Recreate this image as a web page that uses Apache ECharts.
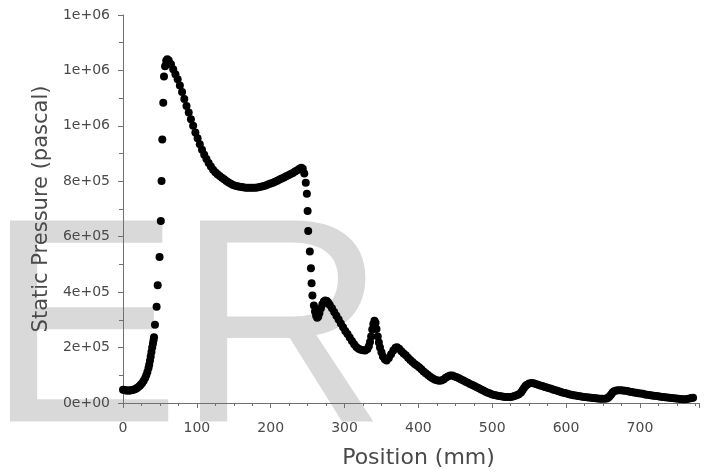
<!DOCTYPE html>
<html>
<head>
<meta charset="utf-8">
<title>Static pressure along position</title>
<script src="https://cdn.jsdelivr.net/npm/echarts@6/dist/echarts.min.js"></script>
<style>
    html, body { margin: 0; padding: 0; background: #fff; }
    #pressure_chart { width: 707px; height: 474px; }
</style>
</head>
<body>
<div id="pressure_chart"></div>
<script>

// Data: [position (mm), static pressure (Pa)]
// ------------------------------

var inletRise = [
    [0, 48000], [2, 46500], [4, 45500], [6, 45000], [8, 45000], [10, 45500],
    [12, 46500], [14, 48000], [16, 50000], [18, 52500], [20, 56000], [22, 60000],
    [24, 65500], [26, 72000], [28, 80000], [30, 90000], [31.5, 100000], [33, 112000],
    [34.5, 126000], [35.5, 138000], [36.5, 152000], [37.5, 168000], [38.5, 184000],
    [39.5, 200000], [40.5, 214000], [41.3, 226000], [42, 237000], [43.3, 282000],
    [45.5, 347000], [47, 425000], [49.5, 527000], [51.2, 657000], [52.2, 801000],
    [53.2, 951000], [54.5, 1083000], [55.5, 1178000], [57, 1215000], [58.5, 1235000],
    [60, 1240000]
];

var firstPeak = [
    [62, 1236000], [65, 1222000], [68, 1204000], [71, 1186000], [74, 1168000],
    [77, 1146000], [80, 1122000], [83, 1097000], [86, 1072000], [89, 1048000],
    [92, 1024000], [95, 1000000], [98, 976000], [101, 955000], [104, 934000],
    [107, 914000], [110, 896000], [113, 880000], [116, 866000], [119, 853000],
    [122, 842000], [125, 833000], [128, 825000], [131, 819000], [134, 813000],
    [137, 807000], [140, 801000], [143, 796000], [146, 791000], [149, 787000],
    [152, 784000], [155, 782000], [158, 780000], [161, 779000], [164, 778000],
    [167, 777000], [170, 777000], [173, 777000], [176, 777000], [179, 777000],
    [182, 778000], [185, 779000], [188, 781000], [191, 783000], [194, 786000],
    [197, 789000], [200, 792000], [203, 795000], [206, 798000], [209, 802000],
    [212, 806000], [215, 810000], [218, 814000], [221, 818000], [224, 822000],
    [227, 826000], [230, 830000], [233, 835000], [236, 840000], [239, 845000],
    [241.5, 849000]
];

var shockDrop = [
    [243.5, 845000], [245.5, 828000], [247.5, 795000], [249, 755000], [250, 693000],
    [250.8, 621000], [253, 547000], [254.5, 486000], [255.4, 432000], [256.5, 388000],
    [258.5, 352000], [260, 330000], [261.5, 315000], [263, 308000], [264.5, 312000],
    [266, 325000], [268, 342000], [270, 356000], [272, 366000], [274, 370000],
    [276, 368000], [278, 362000], [280, 354000], [283, 342000], [286, 328000],
    [289, 315000], [292, 301000], [295, 287000], [298, 273000], [301, 260000],
    [304, 249000], [307, 236000], [310, 224000], [313, 212000], [316, 202000],
    [319, 196000], [322, 192000], [325, 190000], [328, 189000], [331, 195000],
    [333, 206000], [334.5, 220000], [336, 240000], [337.5, 265000], [339, 285000],
    [340.5, 297000], [342, 290000], [343.3, 267000], [345, 240000], [346.5, 218000],
    [348, 200000], [350, 183000], [352, 168000], [354.5, 158000], [357, 153000],
    [360, 162000], [363, 176000], [366, 189000], [369, 199000], [371, 201000],
    [374, 196000], [377, 187000], [380, 179000], [383, 172000], [386, 163000],
    [389, 155000], [392, 148000], [395, 141000], [398, 135000], [401, 129000],
    [404, 122000], [407, 114000], [410, 107000], [413, 101000], [416, 95000],
    [419, 89000], [422, 85000], [425, 82000], [428, 80000], [431, 81000],
    [434, 85000], [437, 91000], [440, 96000], [443, 99000], [446, 99000],
    [449, 96000], [452, 93000], [455, 89000], [458, 85000], [461, 81000]
];

var outletTail = [
    [464, 77000], [467, 73000], [470, 69000], [473, 65000], [476, 61000],
    [479, 57000], [482, 53000], [485, 49000], [488, 45000], [491, 41000],
    [494, 37000], [497, 34000], [500, 31000], [503, 29000], [506, 27000],
    [509, 25000], [512, 24000], [515, 23000], [518, 22000], [521, 21500],
    [524, 21500], [527, 22500], [530, 25000], [533, 28000], [536, 32000],
    [539, 38000], [541, 46000], [543, 54000], [545, 61000], [547, 66000],
    [550, 70000], [553, 72000], [556, 71000], [559, 69000], [562, 66000],
    [565, 63000], [568, 61000], [571, 58000], [574, 56000], [577, 53000],
    [580, 51000], [583, 48000], [586, 46000], [589, 43000], [592, 41000],
    [595, 38000], [598, 36000], [601, 34000], [604, 32000], [607, 30000],
    [610, 28000], [613, 27000], [616, 25000], [619, 24000], [622, 23000],
    [625, 22000], [628, 21000], [631, 20000], [634, 19000], [637, 18000],
    [640, 17000], [643, 16000], [646, 15500], [649, 15000], [652, 15000],
    [655, 16500], [657, 19000], [659, 24000], [661, 31000], [663, 38000],
    [665, 42000], [668, 45000], [671, 46000], [674, 46000], [677, 45000],
    [680, 44000], [683, 43000], [686, 41000], [689, 40000], [692, 38000],
    [695, 37000], [698, 35000], [701, 34000], [704, 33000], [707, 31000],
    [710, 30000], [713, 29000], [716, 27000], [719, 26000], [722, 25000],
    [725, 24000], [728, 23000], [731, 22000], [734, 21000], [737, 20000],
    [740, 19000], [743, 18000], [746, 17000], [749, 16000], [752, 15000],
    [755, 14000], [758, 13500], [761, 13500], [764, 14500], [767, 16000],
    [770, 18000], [772, 19000]
];

// Tick labels as printed on the vertical axis (bottom to top)
var yTickLabels = ['0e+00', '2e+05', '4e+05', '6e+05', '8e+05', '1e+06', '1e+06', '1e+06'];


// Chart
// ------------------------------

var chart_element = document.getElementById('pressure_chart');
var pressure_chart = echarts.init(chart_element, null, { renderer: 'canvas' });

var axisGray = '#707070';
var labelGray = '#4a4a4a';
var textFont = '"DejaVu Sans", Verdana, sans-serif';
var markFont = '"Liberation Sans", Arial, sans-serif';

pressure_chart.setOption({

    animation: false,
    backgroundColor: '#fff',

    textStyle: {
        fontFamily: textFont
    },

    grid: {
        left: 123,
        right: 8,
        top: 15,
        bottom: 70
    },

    // Grey watermark letters behind the plot
    graphic: [{
        type: 'text',
        x: -14,
        y: 195,
        z: -10,
        silent: true,
        style: {
            text: 'E',
            fontSize: 292,
            fontFamily: markFont,
            fill: '#d9d9d9',
            verticalAlign: 'top'
        }
    }, {
        type: 'text',
        x: 176,
        y: 195,
        z: -10,
        silent: true,
        style: {
            text: 'R',
            fontSize: 292,
            fontFamily: markFont,
            fill: '#d9d9d9',
            verticalAlign: 'top'
        }
    }],

    xAxis: {
        type: 'value',
        min: 0,
        max: 780,
        interval: 100,
        name: 'Position (mm)',
        nameLocation: 'middle',
        nameGap: 44,
        nameTextStyle: {
            fontSize: 22,
            color: labelGray,
            padding: [0, 0, 0, 15]
        },
        axisLine: {
            onZero: false,
            lineStyle: { color: axisGray, width: 1 }
        },
        axisTick: {
            length: 5,
            lineStyle: { color: axisGray }
        },
        minorTick: {
            show: true,
            splitNumber: 4,
            length: 3,
            lineStyle: { color: axisGray }
        },
        axisLabel: {
            fontSize: 14,
            color: labelGray,
            margin: 18,
            showMaxLabel: false
        },
        splitLine: { show: false }
    },

    yAxis: {
        type: 'value',
        min: 0,
        max: 1400000,
        interval: 200000,
        name: 'Static Pressure (pascal)',
        nameLocation: 'middle',
        nameGap: 70,
        nameTextStyle: {
            fontSize: 21,
            color: labelGray
        },
        axisLine: {
            show: true,
            lineStyle: { color: axisGray, width: 1 }
        },
        axisTick: {
            show: true,
            length: 5,
            lineStyle: { color: axisGray }
        },
        minorTick: {
            show: true,
            splitNumber: 2,
            length: 4,
            lineStyle: { color: axisGray }
        },
        axisLabel: {
            fontSize: 14,
            color: labelGray,
            margin: 13,
            formatter: function(value) {
                return yTickLabels[Math.round(value / 200000)];
            }
        },
        splitLine: { show: false }
    },

    series: [{
        name: 'Static Pressure',
        type: 'scatter',
        symbol: 'circle',
        symbolSize: 8,
        itemStyle: {
            color: '#000',
            opacity: 1
        },
        data: inletRise.concat(firstPeak, shockDrop, outletTail)
    }]
});

</script>
</body>
</html>
